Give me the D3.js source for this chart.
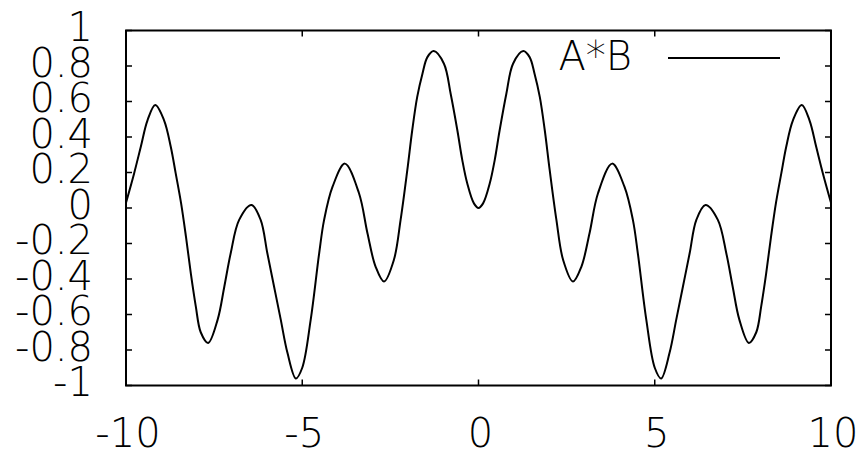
<!DOCTYPE html>
<html>
<head>
<meta charset="utf-8">
<script src="https://cdn.jsdelivr.net/npm/d3@7"></script>
<style>
  body { margin: 0; background: #fff; }
  text { font-family: "DejaVu Sans ExtraLight", "DejaVu Sans", sans-serif; font-weight: 200; fill: #000; }
</style>
</head>
<body>
<div id="chart"></div>
<script>
// values (curve is A*B)
var xValues = [-10, -9.77, -9.58, -9.39, -9.17, -8.92, -8.73, -8.59, -8.44, -8.30, -8.16, -8.02, -7.88, -7.67,
  -7.40, -7.21, -7.03, -6.79, -6.44, -6.18, -5.99, -5.80, -5.61, -5.42, -5.18, -5.00, -4.76, -4.52, -4.38,
  -4.14, -3.79, -3.39, -3.15, -2.92, -2.68, -2.40, -2.21, -2.02, -1.88, -1.74, -1.59, -1.45, -1.27, -0.98,
  -0.79, -0.60, -0.46, -0.32, -0.13, 0,
  0.13, 0.32, 0.46, 0.60, 0.79, 0.98, 1.27, 1.45, 1.59, 1.74, 1.88, 2.02, 2.21, 2.40, 2.68, 2.92, 3.15,
  3.39, 3.79, 4.14, 4.38, 4.52, 4.76, 5.00, 5.18, 5.42, 5.61, 5.80, 5.99, 6.18, 6.44, 6.79, 7.03, 7.21,
  7.40, 7.67, 7.88, 8.02, 8.16, 8.30, 8.44, 8.59, 8.73, 8.92, 9.17, 9.39, 9.58, 9.77, 10];
var yValues = [0.03, 0.195, 0.345, 0.494, 0.58, 0.494, 0.345, 0.195, 0.03, -0.16, -0.37, -0.554, -0.70, -0.76,
  -0.629, -0.442, -0.255, -0.067, 0.017, -0.067, -0.255, -0.442, -0.629, -0.816, -0.96, -0.90, -0.629, -0.255, -0.067,
  0.12, 0.25, 0.083, -0.142, -0.33, -0.414, -0.292, -0.067, 0.213, 0.438, 0.625, 0.757, 0.85, 0.884, 0.813,
  0.644, 0.438, 0.27, 0.139, 0.026, 0,
  0.026, 0.139, 0.27, 0.438, 0.644, 0.813, 0.884, 0.85, 0.757, 0.625, 0.438, 0.213, -0.067, -0.292, -0.414, -0.33, -0.142,
  0.083, 0.25, 0.12, -0.067, -0.255, -0.629, -0.90, -0.96, -0.816, -0.629, -0.442, -0.255, -0.067, 0.017, -0.067, -0.255, -0.442,
  -0.629, -0.76, -0.70, -0.554, -0.37, -0.16, 0.03, 0.195, 0.345, 0.494, 0.58, 0.494, 0.345, 0.195, 0.03];
var xTicks = [-10, -5, 0, 5, 10];
var yTicks = [1, 0.8, 0.6, 0.4, 0.2, 0, -0.2, -0.4, -0.6, -0.8, -1];
var seriesName = "A*B";

var data = xValues.map(function(x, i) { return {x: x, y: yValues[i]}; });

// plot box
var margin = {top: 30.5, right: 33, bottom: 63.5, left: 126};
var width = 864 - margin.left - margin.right;
var height = 449 - margin.top - margin.bottom;
var tickLen = 6;
var fontSize = 40;

var x = d3.scaleLinear().domain([-10, 10]).range([0, width]);
var y = d3.scaleLinear().domain([-1, 1]).range([height, 0]);

var svg = d3.select("#chart")
  .append("svg")
  .attr("width", 864)
  .attr("height", 449)
  .append("g")
  .attr("transform", "translate(" + margin.left + "," + margin.top + ")");

// ticks on all four sides, pointing inward
svg.selectAll(".ytick")
  .data(yTicks)
  .enter().append("path")
  .attr("d", function(d) {
    return "M0," + y(d) + "h" + tickLen + "M" + width + "," + y(d) + "h" + (-tickLen);
  })
  .attr("stroke", "#000")
  .attr("stroke-width", 1.5);

svg.selectAll(".xtick")
  .data(xTicks)
  .enter().append("path")
  .attr("d", function(d) {
    return "M" + x(d) + "," + height + "v" + (-tickLen) + "M" + x(d) + ",0v" + tickLen;
  })
  .attr("stroke", "#000")
  .attr("stroke-width", 1.5);

// tick labels (plain hyphen for minus, as in the picture)
svg.selectAll(".ylabel")
  .data(yTicks)
  .enter().append("text")
  .attr("x", -33)
  .attr("y", function(d) { return y(d) + 10.5; })
  .attr("text-anchor", "end")
  .style("font-size", fontSize + "px")
  .text(function(d) { return String(d); });

svg.selectAll(".xlabel")
  .data(xTicks)
  .enter().append("text")
  .attr("x", function(d) { return x(d) + 2; })
  .attr("y", height + 61)
  .attr("text-anchor", "middle")
  .style("font-size", fontSize + "px")
  .text(function(d) { return String(d); });

// the curve
var line = d3.line()
  .x(function(d) { return x(d.x); })
  .y(function(d) { return y(d.y); })
  .curve(d3.curveCatmullRom);

svg.append("path")
  .datum(data)
  .attr("fill", "none")
  .attr("stroke", "#000")
  .attr("stroke-width", 2)
  .attr("d", line);

// key
svg.append("text")
  .attr("x", 506)
  .attr("y", 39.5)
  .attr("text-anchor", "end")
  .style("font-size", fontSize + "px")
  .text(seriesName);

svg.append("line")
  .attr("x1", 542).attr("x2", 654)
  .attr("y1", 27.5).attr("y2", 27.5)
  .attr("stroke", "#000")
  .attr("stroke-width", 2);

// border
svg.append("rect")
  .attr("width", width)
  .attr("height", height)
  .attr("fill", "none")
  .attr("stroke", "#000")
  .attr("stroke-width", 2);
</script>
</body>
</html>
